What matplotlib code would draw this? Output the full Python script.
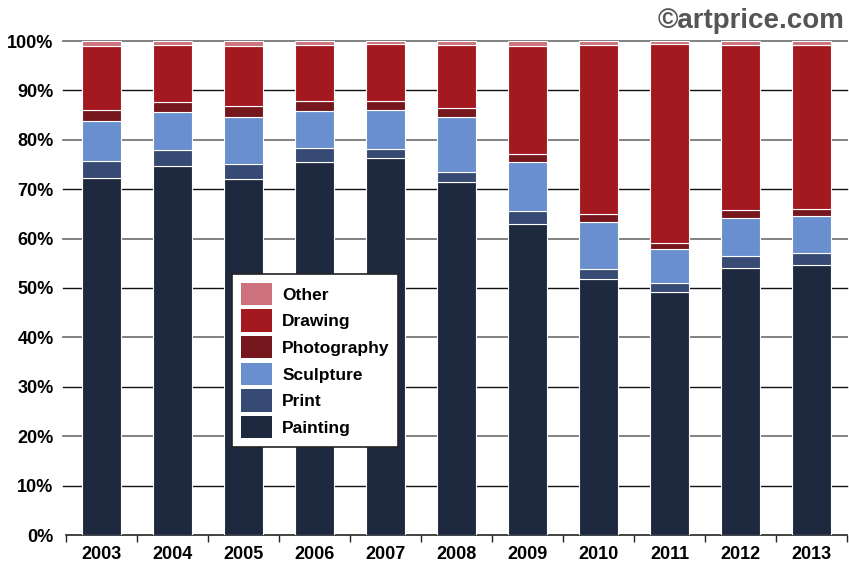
import matplotlib
matplotlib.use("Agg")
import matplotlib.pyplot as plt
import numpy as np
from matplotlib.patches import Patch

years = ["2003", "2004", "2005", "2006", "2007", "2008", "2009", "2010", "2011", "2012", "2013"]
painting = [72.3, 74.7, 72.1, 75.6, 76.4, 71.4, 62.9, 51.8, 49.2, 54.1, 54.7]
print_ = [3.5, 3.2, 3.0, 2.7, 1.8, 2.1, 2.6, 2.0, 1.9, 2.3, 2.3]
sculpture = [8.1, 7.8, 9.5, 7.5, 7.8, 11.1, 10.1, 9.6, 6.8, 7.8, 7.6]
photography = [2.2, 2.0, 2.3, 2.1, 1.9, 1.9, 1.6, 1.5, 1.3, 1.5, 1.3]
drawing = [12.95, 11.5, 12.1, 11.3, 11.4, 12.6, 21.7, 34.3, 40.1, 33.4, 33.3]
other = [0.95, 0.8, 1.0, 0.8, 0.7, 0.9, 1.1, 0.8, 0.7, 0.9, 0.8]

series = [("Painting", painting, "#1e2940"),
          ("Print", print_, "#364a74"),
          ("Sculpture", sculpture, "#6a8fce"),
          ("Photography", photography, "#76171d"),
          ("Drawing", drawing, "#a3191f"),
          ("Other", other, "#cd727c")]

plt.rcParams['font.family'] = ['Liberation Sans', 'DejaVu Sans']
fig = plt.figure(figsize=(8.49, 5.66), dpi=100)
ax = fig.add_axes([66/849, 1-535/566, 781/849, 494/566])

x = np.arange(len(years))
bottom = np.zeros(len(years))
for name, vals, col in series:
    v = np.array(vals)
    ax.bar(x, v, bottom=bottom, width=0.56, color=col, edgecolor="white", linewidth=0.8, zorder=3)
    bottom += v

ax.set_xlim(-0.5, len(years) - 0.5)
ax.set_ylim(0, 100)
ax.set_yticks(np.arange(0, 101, 10))
ax.set_yticklabels([f"{t}%" for t in range(0, 101, 10)], fontsize=13, fontweight="bold")
for t in range(10, 101, 10):
    c = "#777777" if (t // 10) % 2 == 0 else "#111111"
    ax.axhline(t, color=c, linewidth=1.3 if c == "#777777" else 1.0, zorder=1,
               xmin=-0.004, clip_on=False)

ax.set_xticks(x)
ax.set_xticklabels(years, fontsize=13, fontweight="bold")
ax.set_xticks(np.arange(-0.5, len(years), 1), minor=True)
ax.tick_params(axis="x", which="major", length=0, pad=8)
ax.tick_params(axis="x", which="minor", length=5, width=1, direction="out", color="#222222")
ax.tick_params(axis="y", length=0, pad=9)
for s in ["top", "right", "left"]:
    ax.spines[s].set_visible(False)
ax.spines["bottom"].set_color("#222222")
ax.spines["bottom"].set_linewidth(1.2)

handles = [Patch(facecolor=col, edgecolor="none", label=name) for name, vals, col in reversed(series)]
leg = ax.legend(handles=handles, loc="lower left", bbox_to_anchor=(0.2125, 0.178),
                borderaxespad=0, frameon=True, fancybox=False, framealpha=1,
                edgecolor="#222222", prop={"size": 12.5, "weight": "bold"},
                handlelength=1.8, handleheight=1.6, labelspacing=0.25,
                borderpad=0.5, handletextpad=0.6)
leg.get_frame().set_linewidth(1.2)
leg.set_zorder(5)

fig.text(845/849, 1-21/566, "©artprice.com", ha="right", va="center", fontsize=20,
         fontweight="bold", color="#555555")

fig.savefig("out.png", dpi=100)
